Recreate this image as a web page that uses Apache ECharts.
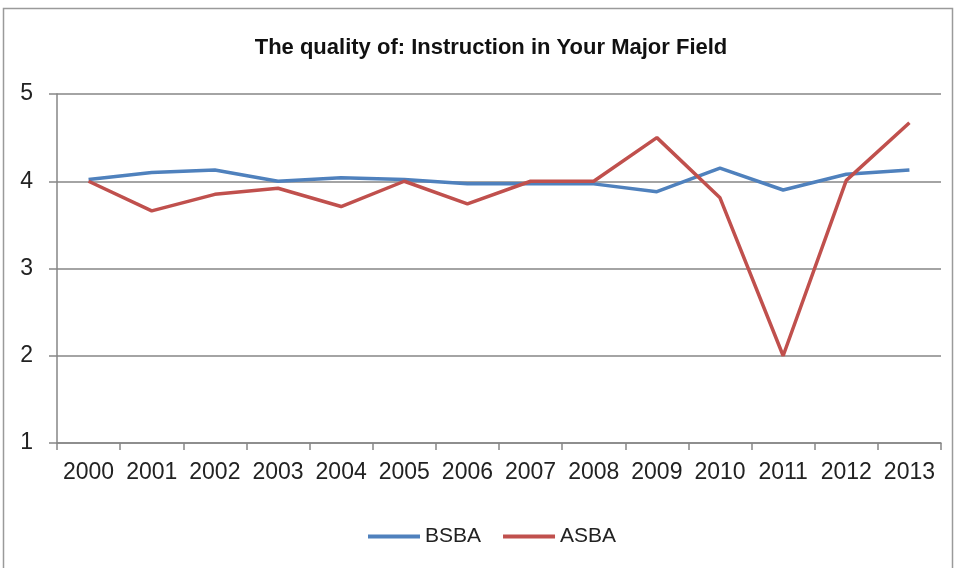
<!DOCTYPE html>
<html>
<head>
<meta charset="utf-8">
<script src="https://cdn.jsdelivr.net/npm/echarts@6/dist/echarts.min.js"></script>
<style>html,body{margin:0;padding:0;background:#fff;}#c{width:954px;height:568px;}</style>
</head>
<body>
<div id="c"></div>
<script>
const categories = ['2000','2001','2002','2003','2004','2005','2006','2007','2008','2009','2010','2011','2012','2013'];
const bsba = [4.02, 4.10, 4.13, 4.00, 4.04, 4.02, 3.97, 3.97, 3.97, 3.88, 4.15, 3.90, 4.08, 4.13];
const asba = [4.00, 3.66, 3.85, 3.92, 3.71, 4.00, 3.74, 4.00, 4.00, 4.50, 3.81, 2.00, 4.01, 4.67];
const yTicks = [1, 2, 3, 4, 5];

const font = 'Liberation Sans, Arial, sans-serif';
const chart = echarts.init(document.getElementById('c'), null, {renderer: 'canvas'});
chart.setOption({
  backgroundColor: '#fff',
  animation: false,
  graphic: [{
    type: 'rect', silent: true, z: -1,
    shape: {x: 3.5, y: 8.5, width: 949, height: 580},
    style: {fill: 'none', stroke: '#9a9a9a', lineWidth: 1.5}
  }],
  title: {
    text: 'The quality of: Instruction in Your Major Field',
    left: 486, textAlign: 'center', top: 32,
    textStyle: {fontFamily: font, fontSize: 22, fontWeight: 'bold', color: '#111'}
  },
  legend: {
    left: 363, top: 521,
    icon: 'rect', itemWidth: 52, itemHeight: 4, itemGap: 22,
    textStyle: {fontFamily: font, fontSize: 21, color: '#222'},
    data: ['BSBA', 'ASBA']
  },
  grid: {left: 57, right: 13, top: 94, bottom: 125, containLabel: false},
  xAxis: {
    type: 'category', data: categories, boundaryGap: true,
    axisLine: {lineStyle: {color: '#868686', width: 1.5}},
    axisTick: {show: true, length: 7, inside: false, alignWithLabel: false, lineStyle: {color: '#868686', width: 1.5}},
    axisLabel: {fontFamily: font, fontSize: 23, color: '#222', margin: 18, interval: 0}
  },
  yAxis: {
    type: 'value', min: yTicks[0], max: yTicks[yTicks.length - 1], interval: 1,
    axisLine: {show: true, lineStyle: {color: '#868686', width: 1.5}},
    axisTick: {show: true, length: 8, lineStyle: {color: '#868686', width: 1.5}},
    axisLabel: {fontFamily: font, fontSize: 23, color: '#222', margin: 24},
    splitLine: {show: true, lineStyle: {color: '#868686', width: 1.5}}
  },
  series: [
    {name: 'BSBA', type: 'line', data: bsba, symbol: 'none', color: '#4F81BD',
     lineStyle: {width: 3.5, color: '#4F81BD'}, itemStyle: {color: '#4F81BD'}},
    {name: 'ASBA', type: 'line', data: asba, symbol: 'none', color: '#C0504D',
     lineStyle: {width: 3.5, color: '#C0504D'}, itemStyle: {color: '#C0504D'}}
  ]
});
</script>
</body>
</html>
